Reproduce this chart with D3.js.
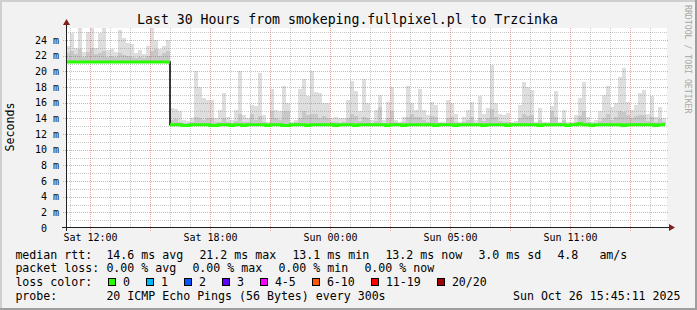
<!DOCTYPE html>
<html>
<head>
<meta charset="utf-8">
<script src="https://cdn.jsdelivr.net/npm/d3@7"></script>
<style>
  body { margin: 0; background: #f2f2f2; }
  svg { display: block; font-family: "DejaVu Sans Mono", monospace; }
  text { white-space: pre; }
</style>
</head>
<body>
<svg id="chart" width="697" height="310"></svg>
<script>
// ---- data (12 minute bins over 30 hours) ----
var spanHours = 30;
var binHours = 0.2;

var timeLabels = ["Sat 12:00", "Sat 18:00", "Sun 00:00", "Sun 05:00", "Sun 11:00"];
var timeLabelHours = [1.2, 7.2, 13.2, 19.2, 25.2];

var medianRtt = [
  21.2, 21.2, 21.2, 21.2, 21.2, 21.2, 21.2, 21.2, 21.2, 21.2,
  21.2, 21.2, 21.2, 21.2, 21.2, 21.2, 21.2, 21.2, 21.2, 21.2,
  21.2, 21.2, 21.2, 21.2, 21.2, 21.2,
  13.2, 13.2, 13.2, 13.1, 13.1, 13.2, 13.2, 13.2, 13.2, 13.2,
  13.1, 13.1, 13.2, 13.2, 13.2, 13.1, 13.2, 13.2, 13.1, 13.2,
  13.2, 13.2, 13.2, 13.2, 13.1, 13.2, 13.2, 13.2, 13.1, 13.1,
  13.2, 13.2, 13.2, 13.2, 13.1, 13.2, 13.2, 13.2, 13.2, 13.2,
  13.2, 13.1, 13.2, 13.2, 13.2, 13.2, 13.1, 13.2, 13.2, 13.2,
  13.2, 13.2, 13.2, 13.2, 13.1, 13.2, 13.2, 13.2, 13.1, 13.2,
  13.2, 13.2, 13.2, 13.2, 13.2, 13.2, 13.1, 13.2, 13.2, 13.2,
  13.2, 13.1, 13.2, 13.2, 13.2, 13.2, 13.2, 13.2, 13.1, 13.2,
  13.2, 13.2, 13.2, 13.2, 13.1, 13.2, 13.2, 13.2, 13.2, 13.2,
  13.2, 13.2, 13.1, 13.2, 13.2, 13.2, 13.2, 13.2, 13.2, 13.1,
  13.2, 13.2, 13.3, 13.2, 13.2, 13.1, 13.2, 13.2, 13.2, 13.2,
  13.2, 13.2, 13.2, 13.1, 13.2, 13.2, 13.2, 13.2, 13.2, 13.2,
  13.2, 13.1, 13.2, 13.2
];

// top of the smoke (slowest ping) per bin
var smokeTop = [
  23.3, 24.9, 23.0, 25.5, 22.5, 25.0, 25.6, 23.0, 24.9, 25.6,
  22.7, 22.8, 22.5, 25.3, 24.2, 23.6, 23.5, 22.4, 22.7, 22.2,
  23.2, 25.6, 24.0, 22.8, 23.2, 24.0, 15.3, 15.2, 14.9, 13.8,
  13.7, 14.0, 20.0, 18.0, 16.6, 16.4, 16.4, 14.0, 15.1, 17.2,
  14.2, 13.8, 15.1, 20.0, 14.4, 14.0, 15.7, 15.6, 19.8, 14.4,
  13.6, 17.7, 15.1, 14.9, 18.1, 15.9, 13.6, 13.8, 17.8, 19.0,
  16.8, 20.0, 17.4, 17.2, 15.9, 15.9, 14.0, 14.2, 14.0, 14.0,
  16.3, 18.8, 17.5, 14.9, 19.0, 15.9, 13.8, 15.1, 17.0, 13.8,
  16.1, 18.0, 13.8, 13.6, 14.2, 18.1, 15.9, 15.1, 17.7, 15.1,
  14.4, 16.1, 15.7, 13.6, 13.5, 16.3, 16.0, 14.6, 13.6, 14.2,
  15.1, 16.1, 13.8, 16.8, 14.6, 15.3, 20.8, 15.9, 14.6, 14.4,
  14.7, 13.6, 13.7, 15.7, 18.6, 18.0, 17.6, 13.6, 15.3, 13.6,
  13.5, 15.6, 17.5, 13.6, 15.1, 13.5, 13.6, 14.4, 16.6, 18.6,
  14.2, 13.6, 13.8, 14.9, 17.0, 18.1, 15.5, 15.9, 19.3, 20.4,
  16.1, 15.1, 15.7, 17.2, 17.6, 14.6, 16.8, 14.2, 15.5, 14.0
];

// denser part of the smoke per bin
var smokeMid = [
  22.4, 22.6, 22.2, 22.8, 21.9, 22.5, 23.0, 22.2, 22.4, 22.6,
  21.9, 22.0, 21.8, 22.3, 22.1, 22.0, 21.9, 21.7, 21.8, 21.7,
  22.0, 22.6, 22.8, 22.0, 22.3, 22.6, 13.8, 13.9, 13.6, 13.4,
  13.4, 13.5, 14.2, 14.0, 13.8, 14.0, 14.1, 13.5, 13.6, 14.0,
  13.5, 13.4, 13.7, 14.5, 13.6, 13.6, 14.6, 13.8, 14.3, 13.6,
  13.4, 14.9, 14.0, 13.8, 15.0, 14.9, 13.4, 13.5, 14.0, 15.0,
  14.4, 14.6, 14.5, 14.0, 14.3, 14.1, 13.5, 13.5, 13.4, 13.5,
  14.0, 14.6, 14.3, 13.7, 14.2, 14.0, 13.4, 13.7, 15.5, 13.4,
  14.0, 15.0, 13.5, 13.4, 13.6, 14.2, 14.6, 14.2, 14.2, 13.8,
  13.6, 14.3, 14.2, 13.4, 13.3, 14.0, 14.2, 13.6, 13.4, 13.5,
  13.8, 14.2, 13.4, 14.0, 13.7, 14.0, 15.2, 14.2, 13.7, 13.6,
  13.6, 13.4, 13.4, 14.0, 14.5, 14.3, 14.4, 13.4, 13.8, 13.4,
  13.3, 15.0, 14.2, 13.4, 13.8, 13.3, 13.4, 13.6, 14.3, 15.0,
  13.6, 13.4, 13.4, 13.7, 14.0, 14.6, 13.8, 14.2, 15.0, 14.8,
  14.4, 14.1, 14.3, 14.4, 14.4, 13.7, 14.2, 13.6, 13.9, 13.6
];

var title = "Last 30 Hours from smokeping.fullpixel.pl to Trzcinka";
var unitLabel = "Seconds";
var rttLegend = ["median rtt:", "14.6 ms avg", "21.2 ms max", "13.1 ms min", "13.2 ms now", "3.0 ms sd", "4.8", "am/s"];
var lossLegend = ["packet loss:", "0.00 % avg", "0.00 % max", "0.00 % min", "0.00 % now"];
var lossLabels = ["0", "1", "2", "3", "4-5", "6-10", "11-19", "20/20"];
var lossColors = ["#26ff00", "#00b8ff", "#0059ff", "#5e00ff", "#ff00ff", "#ff5500", "#ff0000", "#a10000"];
var probeText = "20 ICMP Echo Pings (56 Bytes) every 300s";
var stamp = "Sun Oct 26 15:45:11 2025";
var watermark = "RRDTOOL / TOBI OETIKER";

// ---- drawing ----
var w = 697, h = 310;
var svg = d3.select("#chart");

var x = d3.scaleLinear().domain([0, spanHours]).range([66, 666]);
var y = d3.scaleLinear().domain([0, 25.54]).range([228, 28]);
var px = function(v) { return Math.round(v) + 0.5; };

// background + 3d shade
svg.append("rect").attr("width", w).attr("height", h).attr("fill", "#f2f2f2");
svg.append("rect").attr("x", 0).attr("y", 0).attr("width", w).attr("height", 2).attr("fill", "#cfcfcf");
svg.append("rect").attr("x", 0).attr("y", 0).attr("width", 2).attr("height", h).attr("fill", "#cfcfcf");
svg.append("rect").attr("x", 0).attr("y", h - 2).attr("width", w).attr("height", 2).attr("fill", "#9e9e9e");
svg.append("rect").attr("x", w - 2).attr("y", 0).attr("width", 2).attr("height", h).attr("fill", "#9e9e9e");

// canvas
svg.append("rect")
  .attr("x", x(0)).attr("y", y.range()[1])
  .attr("width", x(spanHours) - x(0) + 1).attr("height", y(0) - y.range()[1])
  .attr("fill", "#ffffff");

// smoke
var bins = medianRtt.map(function(m, i) {
  return { t: i * binHours, med: m, top: smokeTop[i], mid: smokeMid[i] };
});

svg.append("g").attr("shape-rendering", "crispEdges")
  .selectAll("rect").data(bins).enter().append("rect")
  .attr("x", function(d) { return x(d.t); })
  .attr("width", function(d) { return x(d.t + binHours) - x(d.t); })
  .attr("y", function(d) { return Math.round(y(d.top)); })
  .attr("height", function(d) { return Math.max(0, Math.round(y(d.med)) - Math.round(y(d.top))); })
  .attr("fill", "#dedede");

svg.append("g").attr("shape-rendering", "crispEdges")
  .selectAll("rect").data(bins).enter().append("rect")
  .attr("x", function(d) { return x(d.t); })
  .attr("width", function(d) { return x(d.t + binHours) - x(d.t); })
  .attr("y", function(d) { return Math.round(y(d.mid)); })
  .attr("height", function(d) { return Math.max(0, Math.round(y(d.med)) - Math.round(y(d.mid))); })
  .attr("fill", "#c8c8c8");

// grid
var grid = svg.append("g").attr("shape-rendering", "crispEdges").attr("stroke-dasharray", "1,1");
var minorGrey = "rgba(143,143,143,0.5)";
var majorRed = "rgba(222,79,79,0.5)";

var hourLines = d3.range(0, spanHours).map(function(k) { return { t: k + 0.2, major: (k - 1) % 3 === 0 }; });
grid.selectAll("line.vt").data(hourLines).enter().append("line")
  .attr("class", "vt")
  .attr("x1", function(d) { return px(x(d.t)); })
  .attr("x2", function(d) { return px(x(d.t)); })
  .attr("y1", y.range()[1])
  .attr("y2", function(d) { return d.major ? y(0) + 3 : y(0); })
  .attr("stroke", function(d) { return d.major ? majorRed : minorGrey; });

var valueLines = d3.range(1, 26).map(function(v) { return { v: v, major: v % 2 === 0 }; });
grid.selectAll("line.hz").data(valueLines).enter().append("line")
  .attr("class", "hz")
  .attr("x1", function(d) { return d.major ? 63 : x(0); })
  .attr("x2", function(d) { return d.major ? 669 : 668; })
  .attr("y1", function(d) { return px(y(d.v)); })
  .attr("y2", function(d) { return px(y(d.v)); })
  .attr("stroke", function(d) { return d.major ? majorRed : minorGrey; });

// median line: dark line under, loss-coloured line on top
var pts = bins.map(function(d) { return [d.t, d.med]; });
pts.push([spanHours - 0.05, medianRtt[medianRtt.length - 1]]);
var medLine = d3.line()
  .x(function(d) { return x(d[0]); })
  .y(function(d) { return y(d[1]); })
  .curve(d3.curveStepAfter);

svg.append("path").attr("d", medLine(pts))
  .attr("fill", "none").attr("stroke", "#000").attr("stroke-width", 1.5);

var runs = [], cur = [];
pts.forEach(function(p, i) {
  if (i > 0 && Math.abs(p[1] - pts[i - 1][1]) > 2) {
    cur.push([p[0], pts[i - 1][1]]);
    runs.push(cur);
    cur = [];
  }
  cur.push(p);
});
runs.push(cur);
svg.selectAll("path.med").data(runs).enter().append("path")
  .attr("class", "med")
  .attr("d", medLine)
  .attr("fill", "none").attr("stroke", lossColors[0]).attr("stroke-width", 3);

// axes
var axis = svg.append("g").attr("shape-rendering", "crispEdges").attr("stroke", "#1f1f1f");
axis.append("line").attr("x1", 62).attr("x2", 670).attr("y1", px(y(0)) - 1).attr("y2", px(y(0)) - 1);
axis.append("line").attr("x1", px(x(0))).attr("x2", px(x(0))).attr("y1", y(0) + 3).attr("y2", 23);
var ax0 = px(y(0)) - 1, ay0 = px(x(0));
svg.append("path").attr("d", "M669," + (ax0 - 3.5) + "L675," + ax0 + "L669," + (ax0 + 3.5) + "Z").attr("fill", "#801f1f");
svg.append("path").attr("d", "M" + (ay0 - 3.5) + ",25L" + ay0 + ",19L" + (ay0 + 3.5) + ",25Z").attr("fill", "#801f1f");

// y labels
svg.append("g").selectAll("text").data(d3.range(0, 25, 2)).enter().append("text")
  .attr("x", function(v) { return v === 0 ? 47 : 59; })
  .attr("y", function(v) { return y(v) + 3.5; })
  .attr("text-anchor", "end")
  .attr("font-size", "10px")
  .text(function(v) { return v === 0 ? "0" : v + " m"; });

// x labels
svg.append("g").selectAll("text").data(timeLabels).enter().append("text")
  .attr("x", function(d, i) { return x(timeLabelHours[i]) + 0.5; })
  .attr("y", 241)
  .attr("text-anchor", "middle")
  .attr("font-size", "10px")
  .text(function(d) { return d; });

// title, unit, watermark
svg.append("text").attr("x", 347.5).attr("y", 24).attr("text-anchor", "middle")
  .attr("font-size", "13.2px").text(title);
svg.append("text").attr("transform", "translate(14,127) rotate(-90)").attr("text-anchor", "middle")
  .attr("font-size", "11.6px").text(unitLabel);
svg.append("text").attr("transform", "translate(684.5,5) rotate(90)")
  .attr("font-size", "8.2px").attr("fill", "#a8a8a8").text(watermark);

// legend
var legendFont = "11.6px";
var rttX = [16, 107, 200, 293, 386, 479, 558, 600];
var lossX = [16, 107, 193, 279, 365];
var lg = svg.append("g").attr("font-size", legendFont);
lg.selectAll("text.rtt").data(rttLegend).enter().append("text").attr("class", "rtt")
  .attr("x", function(d, i) { return rttX[i] - 0.6; }).attr("y", 258.5).text(function(d) { return d; });
lg.selectAll("text.loss").data(lossLegend).enter().append("text").attr("class", "loss")
  .attr("x", function(d, i) { return lossX[i] - 0.6; }).attr("y", 272.3).text(function(d) { return d; });

lg.append("text").attr("x", 15.4).attr("y", 286).text("loss color:");
var charW = 7.0, bx = 108.5;
lossLabels.forEach(function(lbl, i) {
  lg.append("rect").attr("x", bx).attr("y", 278.5).attr("width", 7).attr("height", 7)
    .attr("fill", lossColors[i]).attr("stroke", "#000").attr("stroke-width", 1)
    .attr("shape-rendering", "crispEdges");
  lg.append("text").attr("x", bx + 14.4).attr("y", 286).text(lbl);
  bx += 15 + lbl.length * charW + 15;
  bx = Math.round(bx) + 0.5;
});

lg.append("text").attr("x", 15.4).attr("y", 299.8).text("probe:");
lg.append("text").attr("x", 106.4).attr("y", 299.8).text(probeText);
lg.append("text").attr("x", 680.5).attr("y", 299.8).attr("text-anchor", "end").text(stamp);
</script>
</body>
</html>
